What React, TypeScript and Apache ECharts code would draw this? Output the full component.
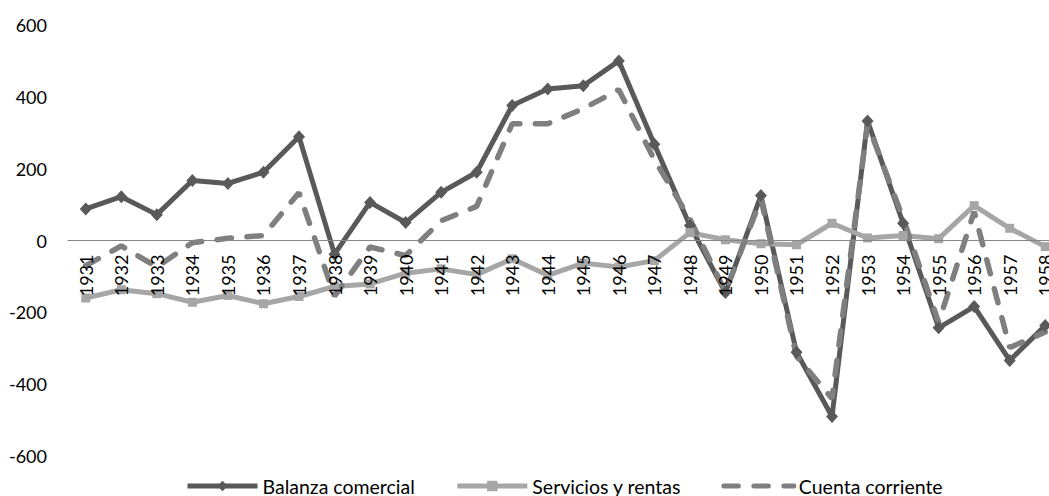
import React, { useEffect, useRef } from "react";
import * as echarts from "echarts";

const years = ["1931","1932","1933","1934","1935","1936","1937","1938","1939","1940","1941","1942","1943","1944","1945","1946","1947","1948","1949","1950","1951","1952","1953","1954","1955","1956","1957","1958"];
const balanza = [88,122,72,167,159,190,289,-38,106,50,134,190,376,422,431,500,268,42,-145,125,-311,-490,333,48,-243,-184,-334,-237];
const servicios = [-160,-137,-148,-172,-153,-176,-156,-128,-121,-91,-79,-95,-51,-97,-63,-74,-56,22,2,-9,-12,48,7,14,5,97,34,-17];
const cuenta = [-70,-15,-74,-6,6,14,133,-155,-18,-42,55,95,325,325,367,420,225,60,-143,116,-322,-440,325,62,-228,80,-298,-255];
const yTicks = { min: -600, max: 600, interval: 200 };

const FONT = "Lato, 'Noto Sans', sans-serif";

export default function App() {
  const ref = useRef<HTMLDivElement>(null);
  useEffect(() => {
    if (!ref.current) return;
    const chart = echarts.init(ref.current, null, { renderer: "svg" });
    chart.setOption({
      animation: false,
      backgroundColor: "#ffffff",
      textStyle: { fontFamily: FONT },
      grid: { left: 68, right: 0, top: 25, bottom: 40, containLabel: false, outerBoundsMode: "none" },
      legend: {
        left: 180,
        top: 471,
        itemWidth: 70,
        itemHeight: 13,
        itemGap: 40,
        lineStyle: { width: 5 },
        textStyle: { fontSize: 19.5, color: "#000", fontFamily: FONT },
        data: [
          "Balanza comercial",
          "Servicios y rentas",
          { name: "Cuenta corriente", itemStyle: { color: "rgba(0,0,0,0)", borderWidth: 0 } },
        ],
      },
      xAxis: {
        type: "category",
        data: years,
        boundaryGap: true,
        position: "bottom",
        offset: -215.5,
        z: 10,
        axisLine: { onZero: false, lineStyle: { color: "#868686", width: 1 } },
        axisTick: { show: false },
        axisLabel: { rotate: 90, interval: 0, fontSize: 18, color: "#000", margin: 14, fontFamily: FONT },
        splitLine: { show: false },
      },
      yAxis: {
        type: "value",
        min: yTicks.min,
        max: yTicks.max,
        interval: yTicks.interval,
        axisLine: { show: false },
        axisTick: { show: false },
        splitLine: { show: false },
        axisLabel: { fontSize: 18, color: "#000", margin: 21, fontFamily: FONT },
      },
      series: [
        {
          name: "Balanza comercial",
          type: "line",
          data: balanza,
          symbol: "diamond",
          symbolSize: [12, 13],
          lineStyle: { color: "#595959", width: 5 },
          itemStyle: { color: "#595959" },
        },
        {
          name: "Servicios y rentas",
          type: "line",
          data: servicios,
          symbol: "rect",
          symbolSize: 9,
          lineStyle: { color: "#A6A6A6", width: 5 },
          itemStyle: { color: "#A6A6A6" },
        },
        {
          name: "Cuenta corriente",
          type: "line",
          data: cuenta,
          symbol: "none",
          lineStyle: { color: "#7F7F7F", width: 5.5, type: [14.5, 15.5], cap: "round" },
          itemStyle: { color: "#7F7F7F" },
        },
      ],
    });
    return () => chart.dispose();
  }, []);
  return (
    <div
      ref={ref}
      style={{ position: "fixed", left: 0, top: 0, width: 1063, height: 496, background: "#fff" }}
    />
  );
}
